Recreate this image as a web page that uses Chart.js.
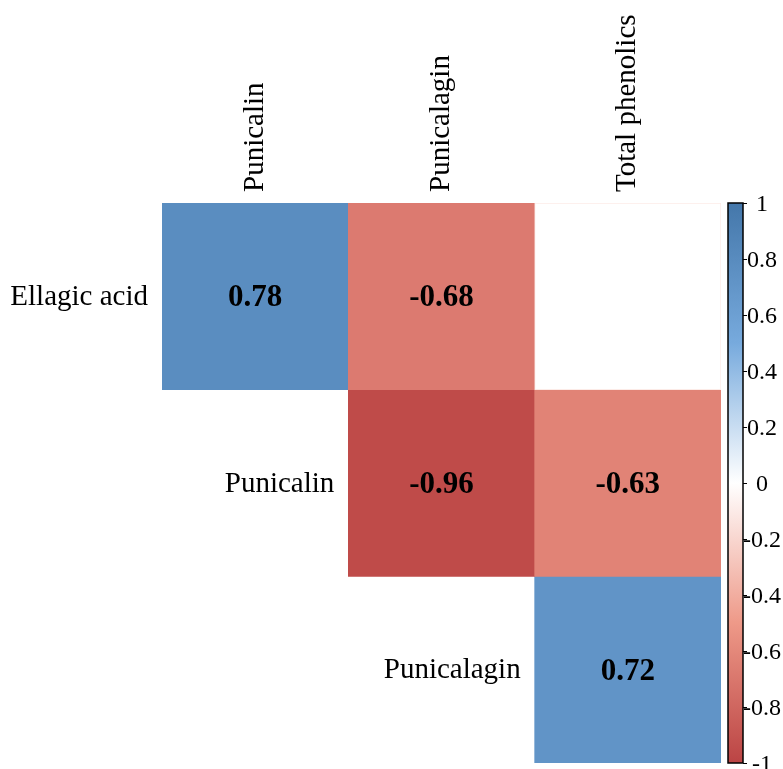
<!DOCTYPE html>
<html>
<head>
<meta charset="utf-8">
<script src="https://cdn.jsdelivr.net/npm/chart.js@4"></script>
<style>
  html, body { margin: 0; padding: 0; background: #fff; }
  #wrap { width: 783px; height: 769px; }
</style>
</head>
<body>
<div id="wrap"><canvas id="c1"></canvas></div>
<script>
// Data
const rowLabels = ['Ellagic acid', 'Punicalin', 'Punicalagin'];
const colLabels = ['Punicalin', 'Punicalagin', 'Total phenolics'];
const rowEllagic = [0.78, -0.68, -0.10];
const rowPunicalin = [null, -0.96, -0.63];
const rowPunicalagin = [null, null, 0.72];
const showValue = [[true, true, false], [false, true, true], [false, false, true]];
const barTicks = [1, 0.8, 0.6, 0.4, 0.2, 0, -0.2, -0.4, -0.6, -0.8, -1];

const rows = [rowEllagic, rowPunicalin, rowPunicalagin];
const SERIF = '"Liberation Serif", "Times New Roman", serif';

// colour ramp (-1 .. 1)
const STOPS = [[-1, [0xBB,0x44,0x44]], [-0.5, [0xEE,0x99,0x88]], [0, [0xFF,0xFF,0xFF]], [0.5, [0x77,0xAA,0xDD]], [1, [0x44,0x77,0xAA]]];
function colorFor(v) {
    for (let i = 0; i < STOPS.length - 1; i++) {
        const [a, ca] = STOPS[i], [b, cb] = STOPS[i + 1];
        if (v >= a && v <= b) {
            const t = (v - a) / (b - a);
            const c = ca.map((x, k) => Math.round(x + (cb[k] - x) * t));
            return `rgb(${c[0]},${c[1]},${c[2]})`;
        }
    }
    return '#fff';
}

// insignificant cells are blanked: white fill, only a thin coloured edge
const datasets = rows.map((vals, i) => ({
    label: rowLabels[i],
    data: vals.map(v => v === null ? null : [i, i + 1]),
    backgroundColor: vals.map((v, j) => v === null ? 'rgba(0,0,0,0)' : (showValue[i][j] ? colorFor(v) : '#fff')),
    borderColor: vals.map(v => v === null ? 'rgba(0,0,0,0)' : colorFor(v)),
    borderWidth: vals.map((v, j) => (v !== null && !showValue[i][j]) ? 1 : 0),
    borderSkipped: false,
    grouped: false,
    barPercentage: 1,
    categoryPercentage: 1
}));

const decor = {
    id: 'decor',
    afterDatasetsDraw(chart) {
        const ctx = chart.ctx;
        const xs = chart.scales.x, ys = chart.scales.y, cb = chart.scales.cb;
        const area = chart.chartArea;
        const cellW = xs.getPixelForValue(1) - xs.getPixelForValue(0);
        ctx.save();
        ctx.fillStyle = '#000';

        // column labels, rotated
        ctx.font = `29px ${SERIF}`;
        colLabels.forEach((t, j) => {
            ctx.save();
            ctx.translate(xs.getPixelForValue(j), area.top - 11);
            ctx.rotate(-Math.PI / 2);
            ctx.textAlign = 'left';
            ctx.textBaseline = 'middle';
            ctx.fillText(t, 0, 0);
            ctx.restore();
        });

        // row labels, next to the first cell of each row
        rows.forEach((vals, i) => {
            const first = vals.findIndex(v => v !== null);
            const x = xs.getPixelForValue(first) - cellW / 2 - 14;
            const y = ys.getPixelForValue(i + 0.5);
            ctx.textAlign = 'right';
            ctx.textBaseline = 'middle';
            ctx.fillText(rowLabels[i], x, y + 1);
        });

        // values
        ctx.font = `bold 31px ${SERIF}`;
        chart.data.datasets.forEach((ds, i) => {
            const meta = chart.getDatasetMeta(i);
            rows[i].forEach((v, j) => {
                if (v === null || !showValue[i][j]) return;
                const el = meta.data[j];
                ctx.textAlign = 'center';
                ctx.textBaseline = 'middle';
                ctx.fillText(v.toFixed(2), el.x, (el.y + el.base) / 2 + 2);
            });
        });

        // colour bar
        const bx = 728, bw = 15;
        const top = cb.getPixelForValue(1), bot = cb.getPixelForValue(-1);
        const g = ctx.createLinearGradient(0, top, 0, bot);
        STOPS.forEach(([v, c]) => g.addColorStop((1 - v) / 2, `rgb(${c[0]},${c[1]},${c[2]})`));
        ctx.fillStyle = g;
        ctx.fillRect(bx, top, bw, bot - top);
        ctx.strokeStyle = '#000';
        ctx.lineWidth = 1.5;
        ctx.strokeRect(bx, top, bw, bot - top);
        ctx.lineWidth = 1;
        ctx.fillStyle = '#000';
        ctx.font = `24px ${SERIF}`;
        barTicks.forEach(t => {
            const y = Math.round(cb.getPixelForValue(t)) + 0.5;
            ctx.beginPath();
            ctx.moveTo(bx + bw, y);
            ctx.lineTo(bx + bw + 4, y);
            ctx.stroke();
            ctx.textAlign = 'center';
            ctx.textBaseline = 'middle';
            ctx.fillText(String(t), 762, y + 1);
        });
        ctx.restore();
    }
};

new Chart(document.getElementById('c1'), {
    type: 'bar',
    data: { labels: colLabels, datasets },
    options: {
        responsive: true,
        maintainAspectRatio: false,
        animation: false,
        events: [],
        layout: { padding: { left: 162, top: 203, right: 62, bottom: 6 } },
        plugins: { legend: { display: false }, tooltip: { enabled: false } },
        scales: {
            x: { display: false, offset: true },
            y: { display: false, min: 0, max: 3, reverse: true },
            cb: { display: false, position: 'right', min: -1, max: 1 }
        }
    },
    plugins: [decor]
});
</script>
</body>
</html>
